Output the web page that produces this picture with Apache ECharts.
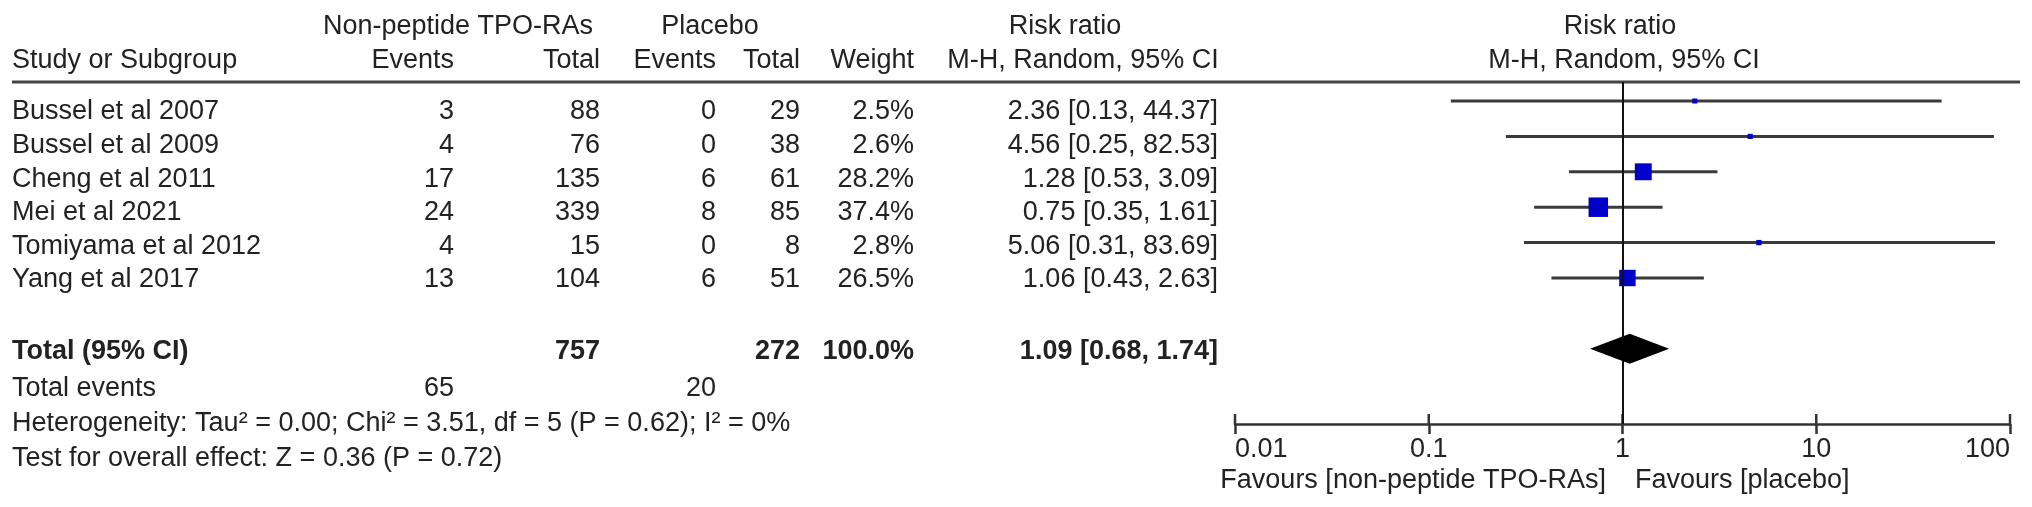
<!DOCTYPE html>
<html><head><meta charset="utf-8">
<script src="https://cdn.jsdelivr.net/npm/echarts@6/dist/echarts.min.js"></script>
<style>html,body{margin:0;padding:0;background:#fff}#c{width:2032px;height:507px}</style>
</head><body><div id="c"></div>
<script>
// ---------- data ----------
const studies = ['Bussel et al 2007','Bussel et al 2009','Cheng et al 2011','Mei et al 2021','Tomiyama et al 2012','Yang et al 2017'];
const expEvents = [3, 4, 17, 24, 4, 13];
const expTotal = [88, 76, 135, 339, 15, 104];
const plaEvents = [0, 0, 6, 8, 0, 6];
const plaTotal = [29, 38, 61, 85, 8, 51];
const weights = [2.5, 2.6, 28.2, 37.4, 2.8, 26.5];
const rr = [2.36, 4.56, 1.28, 0.75, 5.06, 1.06];
const ciLow = [0.13, 0.25, 0.53, 0.35, 0.31, 0.43];
const ciHigh = [44.37, 82.53, 3.09, 1.61, 83.69, 2.63];
const totalRR = [1.09], totalLow = [0.68], totalHigh = [1.74];
const totalExp = 757, totalPla = 272, totalWeight = 100.0;
const totalEventsExp = 65, totalEventsPla = 20;
const heterogeneityText = 'Heterogeneity: Tau\u00B2 = 0.00; Chi\u00B2 = 3.51, df = 5 (P = 0.62); I\u00B2 = 0%';
const overallText = 'Test for overall effect: Z = 0.36 (P = 0.72)';
const xTicks = [0.01, 0.1, 1, 10, 100];
const favoursLeft = 'Favours [non-peptide TPO-RAs]';
const favoursRight = 'Favours [placebo]';

// ---------- layout ----------
const ROW0 = 101, ROWH = 35.4;           // graphic rows
const TROW0 = 112, TROWH = 33.6;         // text rows
const GRID_TOP = 82, AXIS_Y = 424, PLOT_L = 1235, PLOT_R = 2010, W = 2032, H = 507;
const TOTAL_ROW = 7;
const yMin = (GRID_TOP - ROW0) / ROWH, yMax = (AXIS_Y - ROW0) / ROWH;
const FONT = '"Liberation Sans", Arial, Helvetica, sans-serif';
const FS = 27;
const COL = '#222';
const X = {name: 12, expEv: 454, expTot: 600, plaEv: 716, plaTot: 800, weight: 914, rr: 1218};
const rowTextY = i => TROW0 + TROWH * i;
const fmt = v => v.toFixed(2);
const ciText = (e, l, h) => fmt(e) + ' [' + fmt(l) + ', ' + fmt(h) + ']';

const g = [];
function txt(s, x, y, align, bold) {
  g.push({type: 'text', x: x, y: y, silent: true,
    style: {text: String(s), font: (bold ? 'bold ' : '') + FS + 'px ' + FONT, fill: COL,
      align: align || 'left', verticalAlign: 'middle'}});
}
// headers
txt('Non-peptide TPO-RAs', 458, 27, 'center');
txt('Placebo', 710, 27, 'center');
txt('Risk ratio', 1065, 27, 'center');
txt('Risk ratio', 1620, 27, 'center');
txt('Study or Subgroup', X.name, 61, 'left');
txt('Events', X.expEv, 61, 'right');
txt('Total', X.expTot, 61, 'right');
txt('Events', X.plaEv, 61, 'right');
txt('Total', X.plaTot, 61, 'right');
txt('Weight', X.weight, 61, 'right');
txt('M-H, Random, 95% CI', 1083, 61, 'center');
txt('M-H, Random, 95% CI', 1624, 61, 'center');
g.push({type: 'line', silent: true, shape: {x1: 12, y1: GRID_TOP, x2: 2020, y2: GRID_TOP},
  style: {stroke: '#444', lineWidth: 3}});
// study rows
studies.forEach((s, i) => {
  const y = rowTextY(i);
  txt(s, X.name, y, 'left');
  txt(expEvents[i], X.expEv, y, 'right');
  txt(expTotal[i], X.expTot, y, 'right');
  txt(plaEvents[i], X.plaEv, y, 'right');
  txt(plaTotal[i], X.plaTot, y, 'right');
  txt(weights[i].toFixed(1) + '%', X.weight, y, 'right');
  txt(ciText(rr[i], ciLow[i], ciHigh[i]), X.rr, y, 'right');
});
// total rows
const ty = 352;
txt('Total (95% CI)', X.name, ty, 'left', true);
txt(totalExp, X.expTot, ty, 'right', true);
txt(totalPla, X.plaTot, ty, 'right', true);
txt(totalWeight.toFixed(1) + '%', X.weight, ty, 'right', true);
txt(ciText(totalRR[0], totalLow[0], totalHigh[0]), X.rr, ty, 'right', true);
txt('Total events', X.name, 389, 'left');
txt(totalEventsExp, X.expEv, 389, 'right');
txt(totalEventsPla, X.plaEv, 389, 'right');
txt(heterogeneityText, X.name, 424, 'left');
txt(overallText, X.name, 459, 'left');
txt(favoursLeft, 1606, 481, 'right');
txt(favoursRight, 1635, 481, 'left');

const ciData = studies.map((s, i) => [ciLow[i], ciHigh[i], i]);
const ptData = studies.map((s, i) => [rr[i], i, weights[i]]);
const diaData = totalRR.map((v, i) => [totalLow[i], v, totalHigh[i], TOTAL_ROW]);
const tickData = xTicks.map(t => [t]);

const chart = echarts.init(document.getElementById('c'), null, {renderer: 'canvas'});
chart.setOption({
  animation: false,
  grid: {left: PLOT_L, right: W - PLOT_R, top: GRID_TOP, bottom: H - AXIS_Y, containLabel: false},
  xAxis: {
    type: 'log', logBase: 10, min: xTicks[0], max: xTicks[xTicks.length - 1],
    position: 'bottom', splitLine: {show: false},
    axisLine: {show: true, onZero: false, lineStyle: {color: '#333', width: 2.5}},
    axisTick: {show: true, inside: false, length: 10, lineStyle: {color: '#333', width: 2.5}},
    axisLabel: {show: true, margin: 12, fontSize: FS, fontFamily: FONT, color: COL,
      alignMinLabel: 'left', alignMaxLabel: 'right',
      formatter: v => String(+v)}
  },
  yAxis: {type: 'value', min: yMin, max: yMax, inverse: true, show: false},
  series: [
    {
      type: 'custom', name: 'ticksUp', z: 3, silent: true,
      encode: {x: 0},
      data: tickData,
      renderItem: (params, api) => {
        const p = api.coord([api.value(0), yMax]);
        return {type: 'line', shape: {x1: p[0], y1: p[1], x2: p[0], y2: p[1] - 10},
          style: {stroke: '#333', lineWidth: 2.5}};
      }
    },
    {
      type: 'custom', name: 'ci', z: 2,
      encode: {x: [0, 1], y: 2},
      data: ciData,
      renderItem: (params, api) => {
        const a = api.coord([api.value(0), api.value(2)]);
        const b = api.coord([api.value(1), api.value(2)]);
        return {type: 'line', shape: {x1: a[0], y1: a[1], x2: b[0], y2: b[1]},
          style: {stroke: '#3a3a3a', lineWidth: 3}};
      }
    },
    {
      type: 'scatter', name: 'rr', z: 4,
      data: ptData, symbol: 'rect',
      symbolSize: v => 19.5 * Math.sqrt(v[2] / 37.4),
      itemStyle: {color: '#0000c8', opacity: 1},
      markLine: {symbol: 'none', silent: true, label: {show: false},
        lineStyle: {color: '#111', width: 2, type: 'solid'},
        data: [{xAxis: 1}]}
    },
    {
      type: 'custom', name: 'total', z: 5,
      encode: {x: [0, 1, 2], y: 3},
      data: diaData,
      renderItem: (params, api) => {
        const y = api.value(3);
        const l = api.coord([api.value(0), y]);
        const c = api.coord([api.value(1), y]);
        const r = api.coord([api.value(2), y]);
        const hh = 15;
        return {type: 'polygon', shape: {points: [[l[0], l[1]], [c[0], c[1] - hh], [r[0], r[1]], [c[0], c[1] + hh]]},
          style: {fill: '#000'}};
      }
    }
  ],
  graphic: g
});
</script></body></html>
